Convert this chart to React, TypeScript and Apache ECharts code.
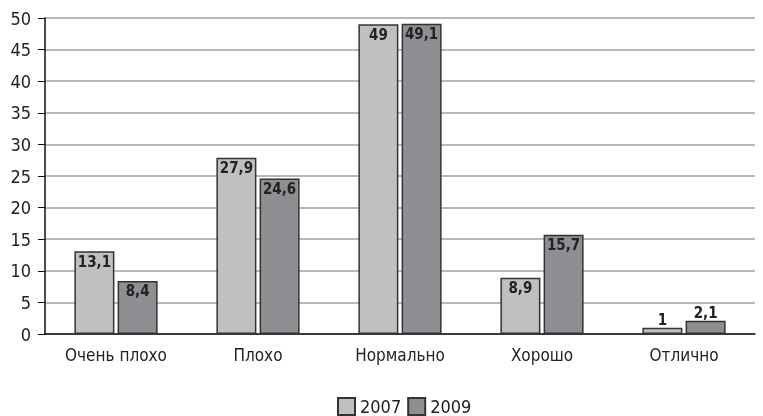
import React, { useEffect, useRef } from "react";
import * as echarts from "echarts";

const categories = ["Очень плохо", "Плохо", "Нормально", "Хорошо", "Отлично"];
const series2007 = [13.1, 27.9, 49, 8.9, 1];
const series2009 = [8.4, 24.6, 49.1, 15.7, 2.1];
const seriesNames = ["2007", "2009"];

const FONT = "'DejaVu Sans Condensed', 'Liberation Sans Narrow', 'Arial Narrow', sans-serif";

export default function App() {
  const ref = useRef<HTMLDivElement>(null);
  useEffect(() => {
    if (!ref.current) return;
    const chart = echarts.init(ref.current, null, { renderer: "svg" });
    const fmt = (p: any) => String(p.value).replace(".", ",");
    const label = {
      show: true,
      position: "insideTop" as const,
      distance: 3,
      formatter: fmt,
      fontFamily: FONT,
      fontWeight: "bold" as const,
      fontSize: 15,
      color: "#222",
    };
    const mk = (vals: number[]) =>
      vals.map((v) =>
        v < 4 ? { value: v, label: { position: "top" as const, distance: 0 } } : v
      );
    chart.setOption({
      animation: false,
      grid: { left: 45, right: 8, top: 18, bottom: 82 },
      legend: {
        top: 392,
        left: 332,
        itemWidth: 17,
        itemHeight: 17,
        itemGap: 6,
        icon: "rect",
        data: seriesNames,
        textStyle: { fontFamily: FONT, fontSize: 18, color: "#222" },
      },
      xAxis: {
        type: "category",
        data: categories,
        axisLine: { lineStyle: { color: "#111", width: 1.5 } },
        axisTick: { show: false },
        axisLabel: { fontFamily: FONT, fontSize: 17, color: "#222", margin: 12 },
      },
      yAxis: {
        type: "value",
        min: 0,
        max: 50,
        interval: 5,
        axisLine: { show: true, lineStyle: { color: "#111", width: 1.5 } },
        axisTick: { show: true, inside: false, length: 7, lineStyle: { color: "#111" } },
        splitLine: { lineStyle: { color: "#a0a0a0", width: 1.5 } },
        axisLabel: { fontFamily: FONT, fontSize: 18, color: "#222", margin: 14 },
      },
      series: [
        {
          name: seriesNames[0],
          type: "bar",
          data: mk(series2007),
          barWidth: 40,
          barGap: "8%",
          itemStyle: { color: "#c0c0c3", borderColor: "#333", borderWidth: 1.5 },
          label: { ...label },
        },
        {
          name: seriesNames[1],
          type: "bar",
          data: mk(series2009),
          barWidth: 40,
          itemStyle: { color: "#8f8f93", borderColor: "#333", borderWidth: 1.5 },
          label: { ...label },
        },
      ],
    });
    return () => chart.dispose();
  }, []);
  return (
    <div
      ref={ref}
      style={{ position: "fixed", left: 0, top: 0, width: 763, height: 416 }}
    />
  );
}
